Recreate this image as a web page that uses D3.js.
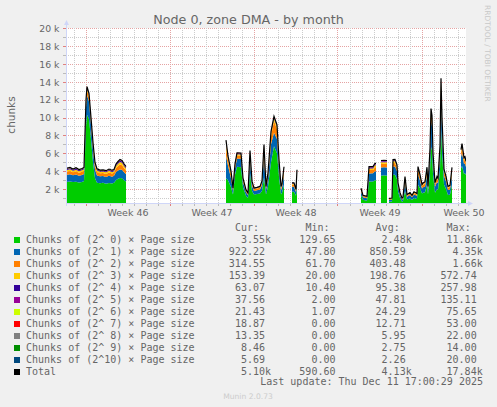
<!DOCTYPE html>
<html>
<head>
<meta charset="utf-8">
<script src="https://cdn.jsdelivr.net/npm/d3@7"></script>
<style>
body { margin: 0; background: #f0f0f0; }
svg { display: block; }
</style>
</head>
<body>
<svg id="graph" width="497" height="407"></svg>
<script>
// hours since the left edge of the graph (Nov 8 09:00 UTC), 2h per pixel
const hours = [
  0, 8, 14, 20, 26, 32, 36, 40, 42, 46, 50, 54, 58, 62, 68, 74, 80, 86, 92, 96, 100, 104, 108, 112, 116, 120, 122,
  320, 324, 330, 334, 338, 342, 350, 354, 360, 364, 368, 372, 376, 382, 388, 392, 396, 400, 404, 410, 416, 422, 426, 430, 432, 436, 438,
  452, 456, 460, 462, 464,
  590, 594, 602, 606, 614, 618, 620, 622,
  630, 636, 642, 644,
  646, 652, 654, 658, 662, 664, 668, 672, 674, 678, 682, 688, 692, 696, 702, 704, 708, 712, 714, 718, 722, 724, 728, 730, 732, 734, 738, 742, 744, 748, 750, 752, 756, 760, 764, 768, 772, 774,
  790, 792, 796, 798, 800
];

// null = no data
const chunks0 = [
  2800, 2850, 2780, 2820, 2750, 2800, 2900, 9000, 10300, 9800, 7600, 5000, 3200, 2700, 2650, 2700, 2600, 2680, 2620, 2700, 3000, 3150, 3250, 3200, 3000, 2850, null,
  3200, 3000, 2200, 1400, 3600, 4500, 4450, 2200, 1250, 1000, 3800, 1800, 1400, 1450, 1500, 1800, 3300, 1400, 2300, 5000, 6800, 6000, 3400, 1400, 1600, 2500, null,
  1700, 1700, 1250, 2300, null,
  1300, 800, 700, 2850, 2850, 3000, 3000, null,
  3500, 3550, 3500, null,
  600, 620, 3600, 3600, 3100, 1700, 1000, 600, 680, 1800, 850, 950, 780, 1000, 900, 2500, 2100, 1500, 1600, 1650, 2500, 1400, 4000, 6700, 6300, 3700, 1600, 2000, 1900, 4200, 9000, 6300, 2500, 2000, 1350, 1400, 2500, null,
  4300, 4600, 3700, 3800, 3550
];
const chunks1 = [
  780, 800, 760, 800, 750, 780, 800, 2100, 2200, 2000, 1600, 1400, 1000, 820, 780, 760, 750, 800, 770, 780, 900, 930, 950, 950, 880, 820, null,
  2500, 1600, 1000, 400, 700, 900, 950, 600, 400, 350, 1500, 600, 400, 420, 450, 650, 2200, 500, 900, 2000, 1500, 1600, 1000, 500, 550, 1100, null,
  550, 560, 420, 1000, null,
  450, 280, 270, 900, 920, 1000, 1000, null,
  900, 880, 900, null,
  200, 210, 900, 920, 900, 550, 330, 220, 240, 900, 300, 380, 300, 400, 350, 1100, 850, 550, 600, 620, 1050, 500, 1500, 3000, 2700, 1400, 650, 800, 750, 1600, 3300, 2300, 1000, 850, 550, 580, 1100, null,
  1300, 1500, 1100, 1100, 922
];
const chunks2 = [
  360, 380, 350, 370, 340, 360, 360, 450, 500, 480, 420, 420, 400, 380, 350, 340, 350, 380, 360, 350, 450, 500, 550, 520, 470, 420, null,
  950, 600, 450, 180, 300, 350, 330, 250, 150, 130, 600, 280, 180, 190, 200, 270, 950, 240, 380, 900, 1300, 1100, 550, 230, 260, 550, null,
  270, 260, 190, 500, null,
  200, 120, 120, 380, 370, 450, 450, null,
  400, 390, 400, null,
  90, 90, 400, 400, 380, 250, 150, 100, 100, 400, 140, 160, 130, 170, 150, 550, 400, 280, 300, 320, 550, 230, 650, 800, 750, 560, 280, 380, 350, 650, 1300, 900, 450, 350, 250, 260, 500, null,
  450, 550, 400, 400, 315
];
const chunks3 = [
  170, 180, 160, 180, 160, 170, 170, 200, 220, 210, 180, 190, 180, 170, 160, 160, 170, 180, 170, 165, 220, 260, 290, 270, 240, 210, null,
  420, 260, 200, 70, 120, 150, 140, 100, 60, 50, 220, 110, 70, 70, 80, 110, 320, 90, 140, 300, 320, 300, 200, 90, 100, 200, null,
  100, 100, 70, 200, null,
  80, 50, 50, 180, 170, 210, 210, null,
  190, 190, 190, null,
  40, 40, 200, 200, 170, 100, 60, 40, 40, 160, 60, 60, 50, 70, 60, 200, 150, 100, 110, 120, 200, 90, 220, 300, 280, 220, 110, 140, 130, 230, 500, 320, 170, 130, 90, 100, 180, null,
  200, 250, 170, 180, 153
];
const chunks4 = [
  100, 110, 100, 110, 95, 100, 100, 110, 110, 100, 90, 90, 100, 100, 100, 95, 100, 105, 100, 100, 120, 130, 150, 140, 130, 120, null,
  200, 120, 80, 30, 50, 60, 60, 40, 25, 20, 100, 50, 30, 30, 35, 45, 120, 40, 50, 120, 110, 100, 80, 40, 40, 80, null,
  40, 40, 30, 90, null,
  35, 25, 25, 90, 90, 100, 100, null,
  100, 100, 100, null,
  20, 20, 100, 100, 80, 50, 30, 20, 20, 70, 30, 30, 25, 30, 30, 90, 60, 40, 45, 50, 80, 40, 90, 100, 100, 80, 40, 50, 50, 80, 150, 100, 60, 50, 40, 40, 80, null,
  80, 100, 70, 70, 63
];
const chunks5 = [
  45, 50, 45, 50, 44, 46, 46, 60, 60, 55, 50, 50, 48, 46, 45, 44, 45, 48, 46, 45, 55, 60, 65, 62, 58, 54, null,
  100, 60, 40, 15, 30, 60, 60, 20, 12, 10, 50, 24, 15, 15, 16, 20, 50, 18, 24, 50, 50, 45, 36, 18, 18, 36, null,
  18, 18, 14, 40, null,
  16, 12, 12, 70, 70, 80, 80, null,
  60, 60, 60, null,
  10, 10, 50, 50, 40, 22, 14, 10, 10, 32, 13, 14, 11, 15, 13, 40, 28, 18, 20, 22, 36, 18, 40, 50, 45, 36, 18, 22, 22, 36, 70, 45, 27, 22, 18, 18, 36, null,
  36, 45, 32, 34, 38
];
const chunks6 = [
  25, 26, 24, 26, 22, 24, 24, 30, 30, 28, 26, 26, 25, 24, 23, 22, 23, 25, 24, 23, 28, 30, 33, 31, 29, 27, null,
  50, 30, 20, 8, 15, 20, 20, 10, 6, 5, 25, 12, 8, 8, 8, 10, 25, 9, 12, 25, 25, 22, 18, 9, 9, 18, null,
  9, 9, 7, 20, null,
  8, 6, 6, 20, 20, 22, 22, null,
  25, 25, 25, null,
  5, 5, 25, 25, 20, 11, 7, 5, 5, 16, 7, 7, 6, 8, 7, 20, 14, 9, 10, 11, 18, 9, 20, 25, 22, 18, 9, 11, 11, 18, 35, 22, 14, 11, 9, 9, 18, null,
  18, 22, 16, 18, 21
];
const chunks7 = [
  12, 12, 12, 14, 12, 12, 12, 15, 15, 14, 13, 13, 12, 12, 12, 12, 12, 13, 12, 12, 14, 15, 16, 15, 14, 13, null,
  30, 15, 10, 4, 8, 10, 10, 5, 3, 3, 12, 6, 4, 4, 4, 5, 12, 5, 6, 12, 12, 11, 9, 5, 5, 9, null,
  5, 5, 4, 10, null,
  4, 3, 3, 10, 10, 11, 11, null,
  12, 12, 12, null,
  2, 2, 12, 12, 10, 6, 3, 2, 2, 8, 3, 3, 3, 4, 3, 10, 7, 5, 5, 5, 9, 5, 10, 12, 11, 9, 5, 6, 5, 9, 18, 11, 7, 6, 4, 5, 9, null,
  10, 12, 9, 10, 19
];
const chunks8 = [
  6, 6, 6, 6, 5, 6, 6, 7, 7, 7, 6, 6, 6, 6, 6, 5, 6, 6, 6, 6, 7, 7, 8, 7, 7, 6, null,
  15, 8, 5, 2, 4, 5, 5, 3, 2, 1, 6, 3, 2, 2, 2, 3, 6, 2, 3, 6, 6, 5, 4, 2, 2, 4, null,
  2, 2, 2, 5, null,
  2, 1, 1, 5, 5, 5, 5, null,
  6, 6, 6, null,
  1, 1, 6, 6, 5, 3, 2, 1, 1, 4, 2, 2, 1, 2, 2, 5, 3, 2, 2, 3, 4, 2, 5, 6, 5, 4, 2, 3, 3, 4, 8, 5, 3, 3, 2, 2, 4, null,
  6, 7, 6, 6, 13
];
const chunks9 = [
  3, 3, 3, 3, 3, 3, 3, 3, 3, 3, 3, 3, 3, 3, 3, 3, 3, 3, 3, 3, 3, 3, 4, 3, 3, 3, null,
  6, 4, 2, 1, 2, 2, 2, 1, 1, 1, 3, 1, 1, 1, 1, 1, 3, 1, 1, 3, 3, 3, 2, 1, 1, 2, null,
  1, 1, 1, 2, null,
  1, 1, 1, 2, 2, 2, 2, null,
  3, 3, 3, null,
  1, 1, 3, 3, 2, 1, 1, 1, 1, 2, 1, 1, 1, 1, 1, 2, 2, 1, 1, 1, 2, 1, 2, 3, 3, 2, 1, 1, 1, 2, 4, 3, 2, 1, 1, 1, 2, null,
  4, 4, 4, 4, 8
];
const chunks10 = [
  2, 2, 2, 2, 2, 2, 2, 2, 2, 2, 2, 2, 2, 2, 2, 2, 2, 2, 2, 2, 2, 2, 2, 2, 2, 2, null,
  4, 3, 2, 1, 1, 2, 2, 1, 1, 0, 2, 1, 1, 1, 1, 1, 2, 1, 1, 2, 2, 2, 1, 1, 1, 1, null,
  1, 1, 1, 1, null,
  1, 0, 0, 1, 1, 1, 1, null,
  2, 2, 2, null,
  0, 0, 2, 2, 1, 1, 0, 0, 0, 1, 0, 0, 0, 0, 0, 1, 1, 1, 1, 1, 1, 1, 1, 2, 2, 1, 1, 1, 1, 1, 3, 2, 1, 1, 1, 1, 1, null,
  3, 3, 3, 3, 6
];

const legendLabels = [
  'Chunks of (2^ 0) × Page size', 'Chunks of (2^ 1) × Page size', 'Chunks of (2^ 2) × Page size',
  'Chunks of (2^ 3) × Page size', 'Chunks of (2^ 4) × Page size', 'Chunks of (2^ 5) × Page size',
  'Chunks of (2^ 6) × Page size', 'Chunks of (2^ 7) × Page size', 'Chunks of (2^ 8) × Page size',
  'Chunks of (2^ 9) × Page size', 'Chunks of (2^10) × Page size', 'Total'
];
const colors = ['#00cc00', '#0066b3', '#ff8000', '#ffcc00', '#330099', '#990099',
  '#ccff00', '#ff0000', '#808080', '#008f00', '#00487d', '#000000'];

const curVals = [3550, 922.22, 314.55, 153.39, 63.07, 37.56, 21.43, 18.87, 13.35, 8.46, 5.69, 5100];
const minVals = [129.65, 47.80, 61.70, 20.00, 10.40, 2.00, 1.07, 0, 0, 0, 0, 590.60];
const avgVals = [2480, 850.59, 403.48, 198.76, 95.38, 47.81, 24.29, 12.71, 5.95, 2.75, 2.26, 4130];
const maxVals = [11860, 4350, 1660, 572.74, 257.98, 135.11, 75.65, 53.00, 22.00, 14.00, 20.00, 17840];

const yTicks = [2000, 4000, 6000, 8000, 10000, 12000, 14000, 16000, 18000, 20000];
const weekMondays = ['2025-11-10', '2025-11-17', '2025-11-24', '2025-12-01', '2025-12-08'];
const weekLabels = ['Week 46', 'Week 47', 'Week 48', 'Week 49', 'Week 50'];

const sans = "'DejaVu Sans', sans-serif";
const mono = "'DejaVu Sans Mono', monospace";
const fontColor = '#666666';
const axisColor = '#cfd6f8';
const minorGrid = '#cccccc';
const majorGrid = '#e5a3a3';

const plotLeft = 66, plotRight = 466, plotTop = 28, plotBottom = 203;
const start = new Date(Date.UTC(2025, 10, 8, 9, 0));
const end = new Date(Date.UTC(2025, 11, 11, 17, 0));

const svg = d3.select('#graph');

const x = d3.scaleUtc().domain([start, end]).range([plotLeft, plotRight]);
const y = d3.scaleLinear().domain([447, 20000]).range([plotBottom, plotTop]);

svg.append('rect').attr('x', plotLeft).attr('y', plotTop)
  .attr('width', plotRight - plotLeft).attr('height', plotBottom - plotTop).attr('fill', '#ffffff');

// grid
const grid = svg.append('g').attr('shape-rendering', 'crispEdges').attr('stroke-dasharray', '1,1');
const hLines = d3.range(1000, 20001, 1000);
grid.selectAll('line.h').data(hLines).enter().append('line')
  .attr('x1', plotLeft).attr('x2', plotRight)
  .attr('y1', d => Math.round(y(d)) + 0.5).attr('y2', d => Math.round(y(d)) + 0.5)
  .attr('stroke', d => d % 2000 === 0 ? majorGrid : minorGrid);
const days = d3.utcDay.range(d3.utcDay.ceil(start), end);
grid.selectAll('line.v').data(days).enter().append('line')
  .attr('y1', plotTop).attr('y2', plotBottom)
  .attr('x1', d => Math.round(x(d)) + 0.5).attr('x2', d => Math.round(x(d)) + 0.5)
  .attr('stroke', d => d.getUTCDay() === 1 ? majorGrid : minorGrid);

// tick marks along the axes
const ticks = svg.append('g').attr('shape-rendering', 'crispEdges');
ticks.selectAll('line.tx').data(days).enter().append('line')
  .attr('x1', d => Math.round(x(d)) + 0.5).attr('x2', d => Math.round(x(d)) + 0.5)
  .attr('y1', plotBottom).attr('y2', plotBottom + 3)
  .attr('stroke', d => d.getUTCDay() === 1 ? '#e08080' : '#bbbbbb');
ticks.selectAll('line.ty').data(hLines).enter().append('line')
  .attr('x1', plotLeft - 3).attr('x2', plotLeft)
  .attr('y1', d => Math.round(y(d)) + 0.5).attr('y2', d => Math.round(y(d)) + 0.5)
  .attr('stroke', d => d % 2000 === 0 ? '#e08080' : '#bbbbbb');

// stacked areas
const keys = d3.range(11).map(i => 'c' + i);
const columns = [chunks0, chunks1, chunks2, chunks3, chunks4, chunks5, chunks6, chunks7, chunks8, chunks9, chunks10];
const rows = hours.map((h, i) => {
  const r = { date: d3.utcHour.offset(start, h), ok: chunks0[i] !== null };
  columns.forEach((c, k) => { r[keys[k]] = c[i]; });
  r.total = r.ok ? d3.sum(columns, c => c[i]) : null;
  return r;
});

const stacked = d3.stack().keys(keys).value((d, k) => d[k] || 0)(rows);

svg.append('clipPath').attr('id', 'plot')
  .append('rect').attr('x', plotLeft).attr('y', plotTop - 1)
  .attr('width', plotRight - plotLeft).attr('height', plotBottom - plotTop + 1);

const area = d3.area()
  .defined(d => d.data.ok)
  .x(d => x(d.data.date))
  .y0(d => y(d[0]))
  .y1(d => y(d[1]));

svg.append('g').attr('clip-path', 'url(#plot)')
  .selectAll('path').data(stacked).enter().append('path')
  .attr('d', area)
  .attr('fill', (d, i) => colors[i]);

const totalLine = d3.line()
  .defined(d => d.ok)
  .x(d => x(d.date))
  .y(d => y(d.total));

svg.append('path').datum(rows)
  .attr('clip-path', 'url(#plot)')
  .attr('d', totalLine)
  .attr('fill', 'none')
  .attr('stroke', '#000000')
  .attr('stroke-width', 1.2);

// axes with arrows
svg.append('line').attr('x1', plotLeft - 0.5).attr('x2', plotRight + 3)
  .attr('y1', plotBottom + 0.5).attr('y2', plotBottom + 0.5)
  .attr('stroke', axisColor).attr('shape-rendering', 'crispEdges');
svg.append('line').attr('x1', plotLeft + 0.5).attr('x2', plotLeft + 0.5)
  .attr('y1', plotBottom + 3).attr('y2', plotTop - 4)
  .attr('stroke', axisColor).attr('shape-rendering', 'crispEdges');
svg.append('path')
  .attr('d', `M${plotRight + 2},${plotBottom - 2} L${plotRight + 7},${plotBottom + 0.5} L${plotRight + 2},${plotBottom + 3} Z`)
  .attr('fill', axisColor);
svg.append('path')
  .attr('d', `M${plotLeft - 2},${plotTop - 3} L${plotLeft + 0.5},${plotTop - 8} L${plotLeft + 3},${plotTop - 3} Z`)
  .attr('fill', axisColor);

// y labels
const yAxis = svg.append('g')
  .attr('transform', `translate(${plotLeft - 6.5},0)`)
  .call(d3.axisLeft(y).tickValues(yTicks).tickFormat(d => (d / 1000) + ' k').tickSize(0).tickPadding(0));
yAxis.select('.domain').remove();
yAxis.selectAll('text')
  .attr('font-family', sans).attr('font-size', '9.3px').attr('fill', fontColor).attr('dy', '0.36em');

// week labels, centred on each week
const weekCentres = weekMondays.map(d => d3.utcHour.offset(new Date(d + 'T00:00:00Z'), 84));
const xAxis = svg.append('g')
  .attr('transform', 'translate(0,216)')
  .call(d3.axisBottom(x).tickValues(weekCentres).tickFormat((d, i) => weekLabels[i]).tickSize(0).tickPadding(0));
xAxis.select('.domain').remove();
xAxis.selectAll('text')
  .attr('y', 0).attr('dy', null)
  .attr('font-family', sans).attr('font-size', '9.5px').attr('fill', fontColor);

// title and side texts
svg.append('text').attr('x', 248.5).attr('y', 24).attr('text-anchor', 'middle')
  .attr('font-family', sans).attr('font-size', '12.7px').attr('fill', fontColor)
  .text('Node 0, zone DMA - by month');

svg.append('text').attr('transform', 'translate(15,115) rotate(-90)').attr('text-anchor', 'middle')
  .attr('font-family', sans).attr('font-size', '10.5px').attr('fill', fontColor)
  .text('chunks');

svg.append('text').attr('transform', 'translate(485,5) rotate(90)')
  .attr('font-family', sans).attr('font-size', '7.5px').attr('fill', '#c8c8c8')
  .text('RRDTOOL / TOBI OETIKER');

// legend
const fmt = v => v >= 1000 ? (v / 1000).toFixed(2) + 'k' : v.toFixed(2) + '\u00a0';
const colRight = [271, 341.5, 411.7, 482.7];
const headers = ['Cur:', 'Min:', 'Avg:', 'Max:'];
const stats = [curVals, minVals, avgVals, maxVals];

const legend = svg.append('g').attr('font-family', mono).attr('font-size', '10px').attr('fill', fontColor);

legend.selectAll('text.head').data(headers).enter().append('text')
  .attr('x', (d, i) => colRight[i] - 12).attr('y', 231.3)
  .attr('text-anchor', 'end').text(d => d);

const legendRows = legend.selectAll('g.row').data(legendLabels).enter().append('g')
  .attr('transform', (d, i) => `translate(0,${243.3 + i * 12})`);

legendRows.append('rect')
  .attr('x', 14).attr('y', -6.3).attr('width', 6).attr('height', 6)
  .attr('fill', (d, i) => colors[i]);

legendRows.append('text').attr('x', 26).attr('y', 0)
  .attr('xml:space', 'preserve').text(d => d);

stats.forEach((vals, c) => {
  legendRows.append('text')
    .attr('x', colRight[c]).attr('y', 0).attr('text-anchor', 'end')
    .text((d, i) => fmt(vals[i]));
});

legend.append('text').attr('x', 483).attr('y', 385).attr('text-anchor', 'end')
  .text('Last update: Thu Dec 11 17:00:29 2025');

svg.append('text').attr('x', 248).attr('y', 399).attr('text-anchor', 'middle')
  .attr('font-family', sans).attr('font-size', '7.6px').attr('fill', '#cccccc')
  .text('Munin 2.0.73');
</script>
</body>
</html>
